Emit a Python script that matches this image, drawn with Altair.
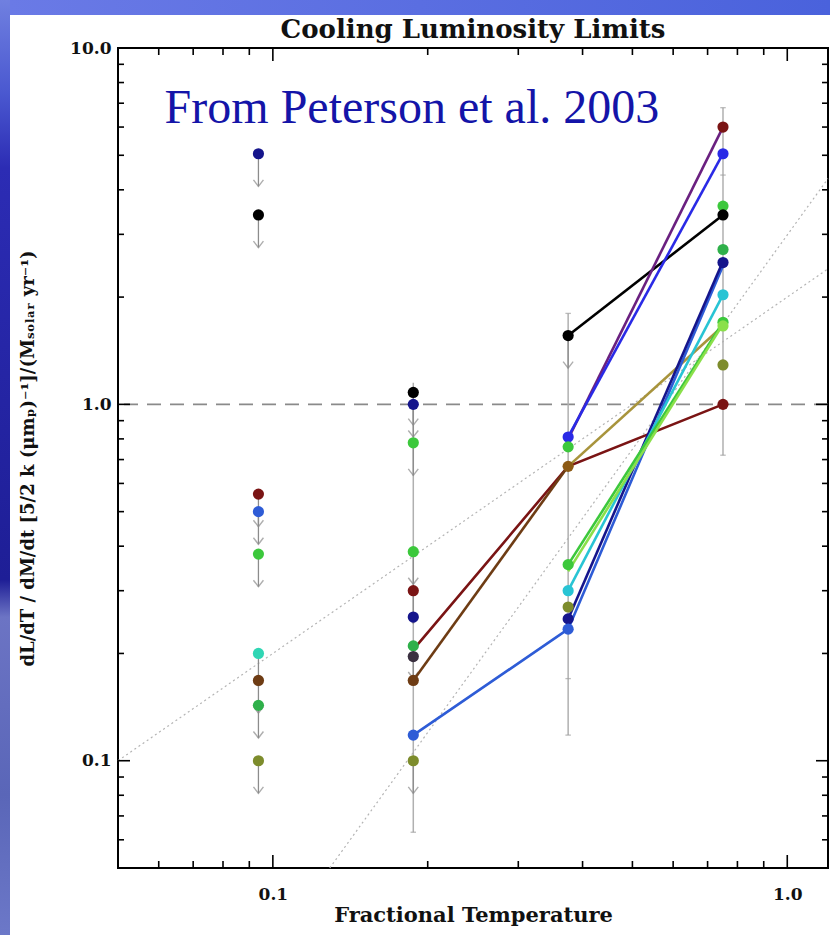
import altair as alt
import pandas as pd

# ---------------- data ----------------
temps = [0.09375, 0.1875, 0.375, 0.75]   # fractional temperature bins

# points: column index, value, colour group, upper-limit flag
pt_col = [0, 0, 0, 0, 0, 0, 0, 0, 0,
          1, 1, 1, 1, 1, 1, 1, 1, 1, 1, 1,
          2, 2, 2, 2, 2, 2, 2, 2, 2,
          3, 3, 3, 3, 3, 3, 3, 3, 3, 3, 3]
pt_val = [5.05, 3.4, 0.56, 0.50, 0.38, 0.20, 0.168, 0.143, 0.10,
          1.08, 1.0, 0.78, 0.386, 0.30, 0.253, 0.21, 0.196, 0.168, 0.118, 0.10,
          1.56, 0.81, 0.76, 0.67, 0.355, 0.30, 0.27, 0.25, 0.234,
          6.0, 5.05, 3.6, 3.4, 2.72, 2.5, 2.03, 1.70, 1.66, 1.29, 1.0]
pt_grp = ["navy", "black", "maroon", "blue", "green", "turquoise", "brown", "green2", "olive",
          "black", "navy", "green", "green", "maroon", "navy", "green2", "slate", "brown", "blue", "olive",
          "black", "violet", "green", "ochre", "green", "cyan", "olive", "navy", "blue",
          "maroon", "violet", "green", "black", "green2", "navy", "cyan", "green", "lime", "olive", "maroon"]
pt_lim = [1, 1, 1, 1, 1, 1, 1, 1, 1,
          1, 1, 1, 1, 1, 0, 1, 0, 0, 0, 1,
          1, 0, 0, 0, 0, 0, 0, 0, 0,
          0, 0, 0, 0, 0, 0, 0, 0, 0, 0, 0]

# connecting lines
ln_id = [1, 1, 2, 2, 3, 3, 4, 4, 4, 5, 5, 6, 6, 7, 7, 7, 8, 8, 9, 9, 10, 10, 11, 11]
ln_col = [2, 3, 2, 3, 2, 3, 1, 2, 3, 1, 2, 2, 3, 1, 2, 3, 2, 3, 2, 3, 2, 3, 2, 3]
ln_val = [1.56, 3.4, 0.80, 6.0, 0.81, 5.05, 0.205, 0.67, 1.0, 0.168, 0.67, 0.67, 1.66,
          0.118, 0.234, 2.45, 0.25, 2.52, 0.30, 2.03, 0.355, 1.70, 0.34, 1.68]
ln_grp = ["black", "black", "purple", "purple", "violet", "violet", "maroon", "maroon", "maroon",
          "brown", "brown", "khaki", "khaki", "blue", "blue", "blue", "navy", "navy",
          "cyan", "cyan", "green", "green", "lime", "lime"]

# colour table
grp_names = ["navy", "black", "maroon", "blue", "green", "turquoise", "brown", "green2", "olive",
             "slate", "violet", "ochre", "cyan", "lime", "purple", "khaki"]
grp_colors = ["#15158c", "#000000", "#7a1414", "#2e5cd6", "#3cc83c", "#30d6b4", "#6e3c14", "#2fb04a",
              "#7d8c2c", "#3a3040", "#2a2ae6", "#8c5a14", "#28c4d4", "#8ae04a", "#6a2080", "#a8943c"]

# error bars (column, low, high) and caps
eb_col = [1, 2, 3]
eb_lo = [0.063, 0.118, 0.72]
eb_hi = [1.15, 1.8, 6.8]
cap_col = [1, 2, 2, 2, 3, 3, 3]
cap_val = [0.063, 0.118, 0.17, 1.8, 0.72, 6.8, 4.4]

# dotted model lines (end points)
md_id = ["a", "a", "b", "b"]
md_x = [0.05, 1.2, 0.129, 1.2]
md_y = [0.1, 2.4, 0.05, 4.3]

# axis ticks
x_major = [0.1, 1.0]
x_minor = [0.06, 0.07, 0.08, 0.09, 0.2, 0.3, 0.4, 0.5, 0.6, 0.7, 0.8, 0.9]
y_major = [0.1, 1.0, 10.0]
y_minor = [0.06, 0.07, 0.08, 0.09, 0.2, 0.3, 0.4, 0.5, 0.6, 0.7, 0.8, 0.9,
           2, 3, 4, 5, 6, 7, 8, 9]

ann_x = [0.0616]
ann_y = [6.16]
ann_text = ["From Peterson et al. 2003"]
title_text = "Cooling Luminosity Limits"

# ---------------- chart ----------------
W, H = 710, 820
SERIF = "DejaVu Serif"
xs = alt.Scale(type="log", domain=[0.05, 1.2], nice=False)
ys = alt.Scale(type="log", domain=[0.05, 10], nice=False)
cs = alt.Scale(domain=grp_names, range=grp_colors)

lab = dict(labelFont=SERIF, labelFontWeight="bold", labelFontSize=17, labelColor="#111111",
           titleFont=SERIF, titleFontWeight="bold", titleColor="#111111",
           grid=False, ticks=False, domain=False)
xaxis = alt.Axis(values=x_major, format=".1f", title="Fractional Temperature",
                 labelPadding=18, titleFontSize=21, titleY=47, titleBaseline="middle", **lab)
yaxis = alt.Axis(values=y_major, format=".1f",
                 title="dL/dT / dM/dt [5/2 k (μmₚ)⁻¹]/(Mₛₒₗₐᵣ yr⁻¹)",
                 labelPadding=7, titleFontSize=18, titleX=-90, titleY=H / 2,
                 titleAngle=270, titleBaseline="middle", **lab)

X = lambda f: alt.X(f, scale=xs, axis=xaxis)
Y = lambda f: alt.Y(f, scale=ys, axis=yaxis)

pts = pd.DataFrame({"t": [temps[c] for c in pt_col], "v": pt_val, "g": pt_grp, "lim": pt_lim})
lns = pd.DataFrame({"id": ln_id, "t": [temps[c] for c in ln_col], "v": ln_val, "g": ln_grp})
ebs = pd.DataFrame({"t": [temps[c] for c in eb_col], "lo": eb_lo, "hi": eb_hi})
caps = pd.DataFrame({"t": [temps[c] for c in cap_col], "v": cap_val})
mds = pd.DataFrame({"id": md_id, "x": md_x, "y": md_y})

one = alt.Data(values=[{}])
left_strip = alt.Chart(one).mark_rect(
    fill=alt.Gradient(gradient="linear", x1=0, x2=0, y1=0, y2=1,
                      stops=[alt.GradientStop(offset=0, color="#7080e0"),
                             alt.GradientStop(offset=0.1, color="#4a58d0"),
                             alt.GradientStop(offset=0.18, color="#2c2cb4"),
                             alt.GradientStop(offset=0.62, color="#1e1e96"),
                             alt.GradientStop(offset=0.66, color="#6c74c4"),
                             alt.GradientStop(offset=0.85, color="#5a66b8"),
                             alt.GradientStop(offset=1, color="#6c78c8")])
).encode(x=alt.value(-118), x2=alt.value(-108), y=alt.value(-48), y2=alt.value(H + 67))
top_strip = alt.Chart(one).mark_rect(
    fill=alt.Gradient(gradient="linear", x1=0, x2=1, y1=0, y2=0,
                      stops=[alt.GradientStop(offset=0, color="#6a7ae6"),
                             alt.GradientStop(offset=1, color="#4a62dc")])
).encode(x=alt.value(-108), x2=alt.value(W + 2), y=alt.value(-48), y2=alt.value(-33))
title = alt.Chart(alt.Data(values=[{"s": title_text}])).mark_text(
    font=SERIF, fontWeight="bold", fontSize=26, color="#111111", align="center", baseline="alphabetic"
).encode(x=alt.value(W / 2), y=alt.value(-10), text="s:N")

points = alt.Chart(pts).mark_circle(size=125, opacity=1).encode(
    x=X("t:Q"), y=Y("v:Q"), color=alt.Color("g:N", scale=cs, legend=None))

models = alt.Chart(mds).mark_line(color="#b4b4b4", strokeWidth=1.2, strokeDash=[2, 3]).encode(
    x=X("x:Q"), y=Y("y:Q"), detail="id:N")
dashed = alt.Chart(pd.DataFrame({"y": [1.0]})).mark_rule(
    color="#8a8a8a", strokeWidth=1.6, strokeDash=[14, 9]).encode(y=Y("y:Q"))
errbars = alt.Chart(ebs).mark_rule(color="#b0b0b0", strokeWidth=1.5).encode(
    x=X("t:Q"), y=Y("lo:Q"), y2="hi:Q")
errcaps = alt.Chart(caps).mark_point(shape="M -1 0 L 1 0", filled=False, color="#a0a0a0",
                                     strokeWidth=1.3, size=30).encode(x=X("t:Q"), y=Y("v:Q"))

lim_base = alt.Chart(pts).transform_filter("datum.lim == 1").transform_calculate(tip="datum.v * 0.81")
arrows = lim_base.mark_rule(color="#8c8c8c", strokeWidth=1.3).encode(
    x=X("t:Q"), y=Y("v:Q"), y2="tip:Q")
heads = lim_base.mark_point(shape="M -1 -1.3 L 0 0 L 1 -1.3", filled=False, color="#8c8c8c",
                            strokeWidth=1.4, size=100).encode(x=X("t:Q"), y=Y("tip:Q"))

lines = alt.Chart(lns).mark_line(strokeWidth=2.6).encode(
    x=X("t:Q"), y=Y("v:Q"), detail="id:N",
    color=alt.Color("g:N", scale=cs, legend=None))

tk = dict(color="black", strokeWidth=1.6)
xmaj = pd.DataFrame({"t": x_major})
xmin = pd.DataFrame({"t": x_minor})
ymaj = pd.DataFrame({"v": y_major})
ymin = pd.DataFrame({"v": y_minor})
ticks = [
    alt.Chart(xmaj).mark_rule(**tk).encode(x=X("t:Q"), y=alt.value(H), y2=alt.value(H - 13)),
    alt.Chart(xmaj).mark_rule(**tk).encode(x=X("t:Q"), y=alt.value(0), y2=alt.value(13)),
    alt.Chart(xmin).mark_rule(**tk).encode(x=X("t:Q"), y=alt.value(H), y2=alt.value(H - 7)),
    alt.Chart(xmin).mark_rule(**tk).encode(x=X("t:Q"), y=alt.value(0), y2=alt.value(7)),
    alt.Chart(ymaj).mark_rule(**tk).encode(y=Y("v:Q"), x=alt.value(0), x2=alt.value(12)),
    alt.Chart(ymaj).mark_rule(**tk).encode(y=Y("v:Q"), x=alt.value(W), x2=alt.value(W - 12)),
    alt.Chart(ymin).mark_rule(**tk).encode(y=Y("v:Q"), x=alt.value(0), x2=alt.value(6)),
    alt.Chart(ymin).mark_rule(**tk).encode(y=Y("v:Q"), x=alt.value(W), x2=alt.value(W - 6)),
]

ann = alt.Chart(pd.DataFrame({"x": ann_x, "y": ann_y, "s": ann_text})).mark_text(
    font="Liberation Serif", fontSize=48, color="#1414a8", align="left", baseline="alphabetic"
).encode(x=X("x:Q"), y=Y("y:Q"), text="s:N")

chart = alt.layer(
    left_strip, top_strip, title, models, dashed, errbars, errcaps, arrows, heads, lines, points,
    *ticks, ann
).properties(
    width=W, height=H,
    autosize=alt.AutoSizeParams(type="none"),
    padding={"left": 118, "top": 48, "right": 2, "bottom": 67},
).configure(background="white", view=alt.ViewConfig(stroke="black", strokeWidth=2))

chart.save("out.html", embed_options={"renderer": "svg", "actions": False})
